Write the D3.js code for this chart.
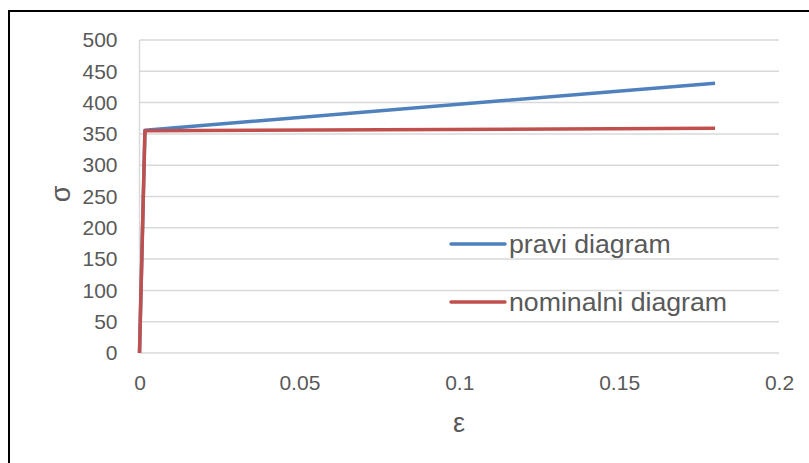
<!DOCTYPE html>
<html>
<head>
<meta charset="utf-8">
<script src="https://cdn.jsdelivr.net/npm/d3@7"></script>
<style>
  html, body { margin: 0; padding: 0; background: #fff; }
  svg { display: block; }
  text { font-family: "Liberation Sans", Arial, sans-serif; fill: #595959; }
</style>
</head>
<body>
<svg id="chart" width="809" height="463"></svg>
<script>
// Strain (ε) and stress (σ) points for each curve
const strainPravi = [0, 0.0017, 0.18];
const stressPravi = [0, 356, 431];
const strainNominal = [0, 0.0017, 0.18];
const stressNominal = [0, 355, 359];

const xTicks = [0, 0.05, 0.1, 0.15, 0.2];
const yTicks = [0, 50, 100, 150, 200, 250, 300, 350, 400, 450, 500];

const seriesNames = ["pravi diagram", "nominalni diagram"];
const seriesColors = ["#4F81BD", "#C0504D"];

const svg = d3.select("#chart");

// outer frame
svg.append("rect")
  .attr("x", 9).attr("y", 11)
  .attr("width", 820).attr("height", 480)
  .attr("fill", "none").attr("stroke", "#000").attr("stroke-width", 2);

const plotLeft = 139.5, plotRight = 779, plotTop = 40, plotBottom = 353;
const x = d3.scaleLinear().domain([0, 0.2]).range([plotLeft, plotRight]);
const y = d3.scaleLinear().domain([0, 500]).range([plotBottom, plotTop]);

// horizontal gridlines
svg.append("g")
  .selectAll("line").data(yTicks).join("line")
  .attr("x1", plotLeft).attr("x2", plotRight)
  .attr("y1", d => y(d)).attr("y2", d => y(d))
  .attr("stroke", "#D9D9D9").attr("stroke-width", 1.5);

// vertical axis line
svg.append("line")
  .attr("x1", plotLeft).attr("x2", plotLeft).attr("y1", plotTop).attr("y2", plotBottom)
  .attr("stroke", "#D9D9D9").attr("stroke-width", 1.5);

const tickFont = "21px";

// y axis labels
const yAxis = d3.axisLeft(y).tickValues(yTicks).tickSize(0).tickPadding(22);
const gy = svg.append("g").attr("transform", `translate(${plotLeft},0)`).call(yAxis);
gy.select(".domain").remove();
gy.selectAll("text").style("font-size", tickFont).attr("fill", "#595959")
  .style("font-family", '"Liberation Sans", Arial, sans-serif');

// x axis labels
const xAxis = d3.axisBottom(x).tickValues(xTicks).tickSize(0).tickPadding(22)
  .tickFormat(d => String(+d.toFixed(2)));
const gx = svg.append("g").attr("transform", `translate(0,${plotBottom})`).call(xAxis);
gx.select(".domain").remove();
gx.selectAll("text").style("font-size", tickFont).attr("fill", "#595959")
  .style("font-family", '"Liberation Sans", Arial, sans-serif');

// axis titles
svg.append("text")
  .attr("transform", "translate(70,194) rotate(-90)")
  .attr("text-anchor", "middle")
  .style("font-size", "27px")
  .text("σ");
svg.append("text")
  .attr("x", 459).attr("y", 432)
  .attr("text-anchor", "middle")
  .style("font-size", "27px")
  .text("ε");

// curves
const line = d3.line().x(d => x(d[0])).y(d => y(d[1]));
const curves = [
  d3.zip(strainPravi, stressPravi),
  d3.zip(strainNominal, stressNominal)
];
const widths = [3.5, 3.5];
curves.forEach((pts, i) => {
  svg.append("path")
    .datum(pts)
    .attr("d", line)
    .attr("fill", "none")
    .attr("stroke", seriesColors[i])
    .attr("stroke-width", widths[i])
    .attr("stroke-linejoin", "round");
});

// legend
const legendY = [244, 302];
seriesNames.forEach((name, i) => {
  svg.append("line")
    .attr("x1", 451).attr("x2", 505)
    .attr("y1", legendY[i]).attr("y2", legendY[i])
    .attr("stroke", seriesColors[i]).attr("stroke-width", 3.5)
    .attr("stroke-linecap", "round");
  svg.append("text")
    .attr("x", 509).attr("y", legendY[i] + 9)
    .style("font-size", "26.7px")
    .text(name);
});
</script>
</body>
</html>
